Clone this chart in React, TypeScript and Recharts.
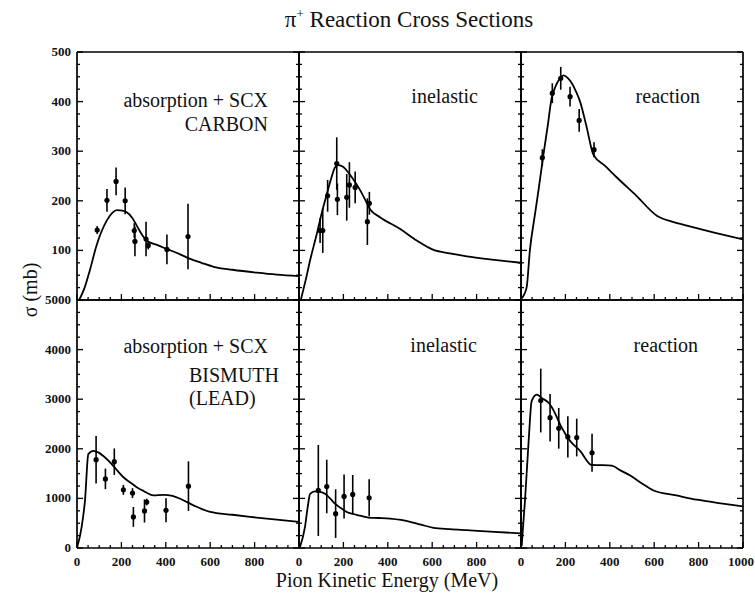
import React from 'react';
import { ComposedChart, Line, Scatter, ErrorBar, XAxis, YAxis } from 'recharts';

const SERIF = 'Liberation Serif, Times New Roman, serif';

// model curves: [energy MeV, sigma mb]
const carbonAbsCurve: [number, number][] = [
  [10, 0], [36, 27], [58, 60], [88, 110], [134, 160], [160, 176], [179, 181], [205, 180],
  [224, 177], [250, 165], [269, 150], [295, 130], [314, 120], [360, 111], [404, 103],
  [460, 93], [510, 83], [560, 75], [615, 67], [700, 61], [810, 55], [900, 51], [1000, 48],
];
const carbonInelCurve: [number, number][] = [
  [8, 0], [30, 40], [50, 80], [80, 133], [105, 180], [125, 213], [145, 245], [162, 267],
  [177, 272], [200, 268], [222, 257], [245, 243], [268, 227], [295, 205], [320, 183],
  [365, 167], [456, 143], [530, 120], [606, 101], [680, 94], [756, 88], [880, 81], [1000, 75],
];
const carbonReacCurve: [number, number][] = [
  [3, 3], [15, 12], [26, 27], [40, 100], [63, 173], [80, 225], [101, 293], [120, 350],
  [138, 407], [155, 430], [176, 447], [191, 453], [210, 448], [229, 437], [248, 420],
  [266, 400], [295, 350], [326, 293], [380, 270], [432, 247], [520, 210], [612, 170],
  [680, 158], [747, 150], [870, 136], [1000, 122],
];
const bismuthAbsCurve: [number, number][] = [
  [0, 0], [21, 427], [36, 960], [51, 1893], [74, 1960], [96, 1927], [120, 1850], [149, 1727],
  [180, 1570], [209, 1427], [240, 1320], [269, 1227], [300, 1150], [344, 1060], [389, 1073],
  [430, 1050], [465, 993], [525, 860], [600, 727], [700, 670], [780, 627], [900, 570], [1000, 527],
];
const bismuthInelCurve: [number, number][] = [
  [5, 27], [27, 427], [40, 850], [50, 1093], [72, 1140], [95, 1130], [117, 1093], [140, 1000],
  [162, 893], [190, 800], [215, 727], [260, 670], [313, 613], [360, 605], [410, 593],
  [460, 565], [501, 527], [550, 470], [606, 407], [680, 380], [756, 360], [880, 327], [1000, 293],
];
const bismuthReacCurve: [number, number][] = [
  [3, 40], [18, 960], [35, 2200], [48, 2960], [71, 3093], [93, 3027], [131, 2893], [155, 2700],
  [176, 2493], [200, 2300], [221, 2160], [266, 1960], [319, 1673], [360, 1670], [409, 1660],
  [450, 1560], [492, 1460], [545, 1300], [597, 1160], [700, 1060], [792, 973], [900, 900], [1000, 840],
];

// measurements: [energy, sigma, error]
const carbonAbsPts: [number, number, number][] = [
  [91, 141, 8], [135, 201, 23], [176, 239, 28], [217, 200, 27], [258, 140, 15],
  [261, 118, 30], [311, 123, 35], [321, 110, 8], [405, 102, 30], [500, 128, 66],
];
const carbonInelPts: [number, number, number][] = [
  [95, 140, 25], [107, 140, 45], [129, 210, 32], [170, 275, 53], [173, 203, 32],
  [215, 207, 47], [227, 232, 46], [253, 227, 32], [308, 158, 47], [317, 195, 23],
];
const carbonReacPts: [number, number, number][] = [
  [96, 287, 17], [141, 417, 20], [179, 447, 23], [221, 410, 20], [262, 362, 23], [329, 303, 15],
];
const bismuthAbsPts: [number, number, number][] = [
  [86, 1780, 480], [128, 1393, 207], [168, 1740, 267], [209, 1173, 100], [250, 1107, 100],
  [254, 627, 200], [304, 747, 233], [314, 927, 67], [401, 760, 243], [502, 1247, 500],
];
const bismuthInelPts: [number, number, number][] = [
  [87, 1160, 917], [125, 1240, 540], [165, 693, 490], [203, 1040, 443], [242, 1080, 393], [316, 1013, 373],
];
const bismuthReacPts: [number, number, number][] = [
  [89, 2973, 643], [131, 2627, 480], [170, 2413, 410], [211, 2240, 417], [251, 2227, 380], [320, 1920, 383],
];

const xTicks = Array.from({ length: 21 }, (_, i) => i * 50);
const xLabelsFirst = [0, 200, 400, 600, 800];
const xLabelsLast = [0, 200, 400, 600, 800, 1000];
const carbonYTicks = Array.from({ length: 21 }, (_, i) => i * 25);
const carbonYLabels = [100, 200, 300, 400, 500];
const bismuthYTicks = Array.from({ length: 21 }, (_, i) => i * 250);
const bismuthYLabels = [0, 1000, 2000, 3000, 4000, 5000];

const W = 222;
const H = 248;
const PAD = { top: 10, right: 20, bottom: 30, left: 45 };
// axes need a non-zero box to be drawn, so 1px of each pad goes to the axis
const M = { top: PAD.top - 1, right: PAD.right - 1, bottom: PAD.bottom - 1, left: PAD.left - 1 };
const TM = 4;

type Side = 'bottom' | 'top' | 'left' | 'right';

const makeTick = (side: Side, major: number, labels: number[]) => (props: any) => {
  const { x, y, payload } = props;
  const v = payload.value;
  const len = v % major === 0 ? 6 : 3;
  const show = labels.includes(v);
  const ts = { fontSize: 13, fontWeight: 700, fill: '#111', style: { fontFamily: SERIF } };
  if (side === 'bottom') {
    const ay = y - TM;
    // the last label sits at the page edge, keep it inside
    const edge = v === 1000;
    return (
      <g>
        <line x1={x} x2={x} y1={ay} y2={ay - len} stroke="#000" strokeWidth={1.3} />
        {show && (
          <text x={edge ? x + 11 : x} y={ay + 18} textAnchor={edge ? 'end' : 'middle'} {...ts}>{v}</text>
        )}
      </g>
    );
  }
  if (side === 'top') {
    const ay = y + TM;
    return <line x1={x} x2={x} y1={ay} y2={ay + len} stroke="#000" strokeWidth={1.3} />;
  }
  if (side === 'left') {
    const ax = x + TM;
    return (
      <g>
        <line x1={ax} x2={ax + len} y1={y} y2={y} stroke="#000" strokeWidth={1.3} />
        {show && <text x={ax - 6} y={y + 4} textAnchor="end" {...ts}>{v}</text>}
      </g>
    );
  }
  const ax = x - TM;
  return <line x1={ax} x2={ax - len} y1={y} y2={y} stroke="#000" strokeWidth={1.3} />;
};

const dot = (p: any) => <circle cx={p.cx} cy={p.cy} r={2.6} fill="#000" />;

type PanelProps = {
  left: number;
  top: number;
  curve: [number, number][];
  points: [number, number, number][];
  yMax: number;
  yTicks: number[];
  yMajor: number;
  yLabels: number[];
  xLabels: number[];
};

function Panel({ left, top, curve, points, yMax, yTicks, yMajor, yLabels, xLabels }: PanelProps) {
  const curveData = curve.map(([x, y]) => ({ x, y }));
  const ptData = points.map(([x, y, e]) => ({ x, y, e }));
  const axisStyle = { stroke: '#000', strokeWidth: 1.7 };
  return (
    <div style={{ position: 'absolute', left: left - PAD.left, top: top - PAD.top }}>
      <ComposedChart width={W + PAD.left + PAD.right} height={H + PAD.top + PAD.bottom} margin={M}>
        <XAxis dataKey="x" type="number" domain={[0, 1000]} ticks={xTicks} interval={0}
          allowDataOverflow height={1} tickSize={0} tickMargin={TM} axisLine={axisStyle}
          tick={makeTick('bottom', 200, xLabels)} />
        <XAxis xAxisId="top" orientation="top" type="number" domain={[0, 1000]} ticks={xTicks}
          interval={0} allowDataOverflow height={1} tickSize={0} tickMargin={TM} axisLine={axisStyle}
          tick={makeTick('top', 200, [])} />
        <YAxis dataKey="y" type="number" domain={[0, yMax]} ticks={yTicks} interval={0}
          allowDataOverflow width={1} tickSize={0} tickMargin={TM} axisLine={axisStyle}
          tick={makeTick('left', yMajor, yLabels)} />
        <YAxis yAxisId="right" orientation="right" type="number" domain={[0, yMax]} ticks={yTicks}
          interval={0} allowDataOverflow width={1} tickSize={0} tickMargin={TM} axisLine={axisStyle}
          tick={makeTick('right', yMajor, [])} />
        <Line data={curveData} dataKey="y" type="monotone" stroke="#000" strokeWidth={1.8}
          dot={false} isAnimationActive={false} />
        <Scatter data={ptData} dataKey="y" shape={dot} isAnimationActive={false}>
          <ErrorBar dataKey="e" direction="y" width={0} stroke="#000" strokeWidth={1.6} />
        </Scatter>
      </ComposedChart>
    </div>
  );
}

const textStyle = { fontSize: 20, fill: '#111', style: { fontFamily: SERIF } };

export default function App() {
  const cols = [77, 299, 521];
  const rows = [52, 300];
  return (
    <div style={{ position: 'absolute', left: 0, top: 0, width: 755, height: 599, background: '#fff', overflow: 'hidden' }}>
      <Panel left={cols[0]} top={rows[0]} curve={carbonAbsCurve} points={carbonAbsPts} yMax={500}
        yTicks={carbonYTicks} yMajor={100} yLabels={carbonYLabels} xLabels={[]} />
      <Panel left={cols[1]} top={rows[0]} curve={carbonInelCurve} points={carbonInelPts} yMax={500}
        yTicks={carbonYTicks} yMajor={100} yLabels={[]} xLabels={[]} />
      <Panel left={cols[2]} top={rows[0]} curve={carbonReacCurve} points={carbonReacPts} yMax={500}
        yTicks={carbonYTicks} yMajor={100} yLabels={[]} xLabels={[]} />
      <Panel left={cols[0]} top={rows[1]} curve={bismuthAbsCurve} points={bismuthAbsPts} yMax={5000}
        yTicks={bismuthYTicks} yMajor={1000} yLabels={bismuthYLabels} xLabels={xLabelsFirst} />
      <Panel left={cols[1]} top={rows[1]} curve={bismuthInelCurve} points={bismuthInelPts} yMax={5000}
        yTicks={bismuthYTicks} yMajor={1000} yLabels={[]} xLabels={xLabelsFirst} />
      <Panel left={cols[2]} top={rows[1]} curve={bismuthReacCurve} points={bismuthReacPts} yMax={5000}
        yTicks={bismuthYTicks} yMajor={1000} yLabels={[]} xLabels={xLabelsLast} />
      <svg width={755} height={599} style={{ position: 'absolute', left: 0, top: 0, pointerEvents: 'none' }}>
        <text x={409} y={27} textAnchor="middle" fontSize={23} fill="#111" style={{ fontFamily: SERIF }}>
          π<tspan fontSize={13} dy={-9}>+</tspan><tspan dy={9}> Reaction Cross Sections</tspan>
        </text>
        <text x={387} y={587} textAnchor="middle" {...textStyle}>Pion Kinetic Energy (MeV)</text>
        <text transform="translate(37,290) rotate(-90)" textAnchor="middle" {...textStyle}>σ (mb)</text>
        <text x={268} y={107} textAnchor="end" {...textStyle}>absorption + SCX</text>
        <text x={268} y={131} textAnchor="end" {...textStyle}>CARBON</text>
        <text x={478} y={103} textAnchor="end" {...textStyle}>inelastic</text>
        <text x={700} y={103} textAnchor="end" {...textStyle}>reaction</text>
        <text x={268} y={353} textAnchor="end" {...textStyle}>absorption + SCX</text>
        <text x={189} y={382} {...textStyle}>BISMUTH</text>
        <text x={189} y={405} {...textStyle}>(LEAD)</text>
        <text x={477} y={352} textAnchor="end" {...textStyle}>inelastic</text>
        <text x={698} y={352} textAnchor="end" {...textStyle}>reaction</text>
      </svg>
    </div>
  );
}
